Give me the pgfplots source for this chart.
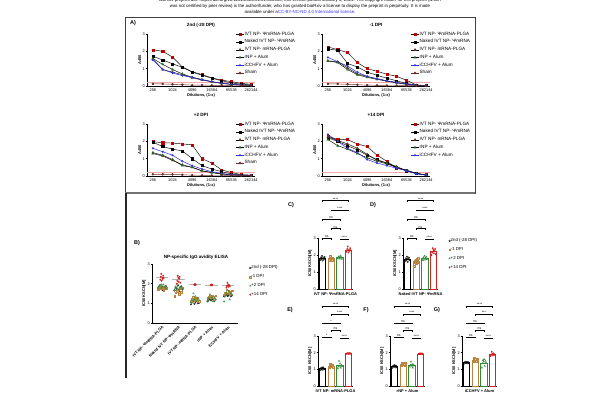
\documentclass[border=0pt]{standalone}
\usepackage{fontspec}
\setmainfont{Liberation Sans}
\usepackage{pgfplots}
\usepackage{pgfplotstable}
\pgfplotsset{compat=1.18}
\pgfkeys{/pgf/number format/assume math mode=true}
\newcommand\fs[1]{\fontsize{#1}{#1}\selectfont}
\definecolor{cR}{HTML}{C00000}
\definecolor{cBr}{HTML}{5C3A1E}
\definecolor{cG}{HTML}{1F6B1F}
\definecolor{cBl}{HTML}{2B2BD9}
\definecolor{cSh}{HTML}{6B2A2A}
\definecolor{cTan}{HTML}{B8843F}
\definecolor{cGr}{HTML}{2E8B3A}
\definecolor{cRd}{HTML}{D42020}
\definecolor{cPk}{HTML}{F4A8A8}
\definecolor{cLink}{HTML}{3333FF}

\pgfplotsset{
 gp/.style={scale only axis, axis x line*=bottom, axis y line*=left, tick align=outside,
   major tick length=1.4bp, tick style={black, line width=0.4bp},
   axis line style={black, line width=0.5bp},
   ticklabel style={font=\fs{3.9}, inner sep=0.7bp},
   clip=false,
   label style={font=\bfseries\fs{4}, inner sep=0.6bp}},
 dil/.style={gp, width=108bp, height=52bp, xmin=169, xmax=345000,
   ymin=0, ymax=3, ytick={0,1,2,3},
   xtick={256,1024,4096,16384,65536,262144},
   xticklabels={256,1024,4096,16384,65536,262144},
   xlabel={Dilutions, (1:x)}, ylabel={A450},
   xlabel style={yshift=-1bp},
   legend style={at={(rel axis cs:0.82,1.05)}, anchor=north west, draw=none, fill=none,
     font=\fs{4.7}, row sep=2.3bp, inner sep=0pt, nodes={inner sep=0.3bp}, cells={anchor=west}},
   legend image code/.code={\draw[mark repeat=2,mark phase=2,##1] plot coordinates {(0bp,0bp) (4bp,0bp) (8bp,0bp)};}},
 mleg/.style={legend image code/.code={\draw[##1] plot coordinates {(2bp,0bp)};}},
 legB/.style={mleg, legend style={anchor=north west, draw=none, fill=none, font=\fs{4.4},
     row sep=3.7bp, inner sep=0pt, nodes={inner sep=0.3bp}, cells={anchor=west}}},
 bars/.style={gp, width=35bp, xmin=0.5, xmax=4.5, ymin=0, ymax=3, ytick={0,1,2,3},
   xtick={2.5}, xticklabels={}, ylabel={IC50 KSCN[M]}},
 sR/.style={black, line width=0.45bp, mark=square*, mark size=1.05bp, mark options={draw=cR, fill=cR, solid}},
 sK/.style={black, line width=0.45bp, mark=square*, mark size=1.05bp, mark options={draw=black, fill=black, solid}},
 sB/.style={black, line width=0.45bp, mark=triangle*, mark size=1.2bp, mark options={draw=cBr, fill=cBr, solid}},
 sG/.style={black, line width=0.45bp, mark=triangle*, mark size=1.2bp, mark options={draw=cG, fill=cG, solid}},
 sU/.style={cBl, line width=0.5bp, mark=*, mark size=0.8bp, mark options={draw=cBl, fill=cBl!45, solid}},
 sS/.style={cSh, line width=0.45bp, mark=*, mark size=1.0bp, mark options={draw=cSh, fill=cSh, solid}},
 p0/.style={only marks, mark=o, mark size=0.85bp, black, mark options={line width=0.35bp}},
 p1/.style={only marks, mark=square*, mark size=0.8bp, mark options={draw=cTan, fill=cTan!40, line width=0.35bp}},
 p2/.style={only marks, mark=triangle, mark size=0.95bp, cGr, mark options={line width=0.35bp}},
 p3/.style={only marks, mark=diamond*, mark size=0.8bp, cRd},
}

\pgfplotstableread{
d r k b g u s
256 2.09 1.72 1.55 1.58 1.50 0.12
512 2.00 1.50 0.95 1.25 0.95 0.12
1024 1.67 1.28 0.80 0.95 0.75 0.10
2048 1.10 1.08 0.65 0.70 0.60 0.08
4096 0.82 0.80 0.48 0.50 0.50 0.05
8192 0.66 0.62 0.35 0.38 0.35 0.05
16384 0.47 0.45 0.25 0.25 0.25 0.04
32768 0.34 0.30 0.15 0.15 0.16 0.04
65536 0.25 0.18 0.10 0.09 0.10 0.03
131072 0.15 0.10 0.06 0.05 0.06 0.03
262144 0.10 0.06 0.04 0.04 0.04 0.03
}\tA
\pgfplotstableread{
d r k b g u s
256 2.25 2.15 1.45 1.45 1.65 0.12
512 2.10 2.05 1.40 1.35 1.40 0.12
1024 1.93 1.30 1.05 0.95 1.15 0.10
2048 1.35 1.10 0.70 0.65 0.80 0.07
4096 1.00 0.80 0.55 0.50 0.55 0.05
8192 0.85 0.62 0.42 0.38 0.42 0.04
16384 0.68 0.45 0.30 0.28 0.30 0.03
32768 0.56 0.30 0.20 0.18 0.20 0.03
65536 0.33 0.15 0.10 0.10 0.12 0.02
131072 0.06 0.05 0.04 0.04 0.05 0.02
262144 0.03 0.03 0.03 0.03 0.03 0.02
}\tB
\pgfplotstableread{
d r k b g u s
256 1.98 1.95 1.30 1.35 1.60 0.10
512 1.92 1.70 1.15 1.20 1.40 0.10
1024 1.90 1.55 0.90 0.95 1.20 0.09
2048 1.85 1.45 0.65 0.60 0.85 0.07
4096 1.80 1.00 0.50 0.50 0.60 0.05
8192 1.00 0.60 0.30 0.30 0.40 0.04
16384 0.75 0.40 0.20 0.20 0.25 0.03
32768 0.35 0.25 0.12 0.12 0.15 0.03
65536 0.20 0.12 0.07 0.07 0.08 0.02
131072 0.08 0.06 0.04 0.04 0.05 0.02
262144 0.05 0.04 0.03 0.03 0.03 0.02
}\tC
\pgfplotstableread{
d r k b g u
256 2.30 2.20 2.25 2.10 2.40
512 2.10 2.00 2.05 1.75 2.00
1024 2.10 1.75 1.85 1.55 1.60
2048 1.85 1.50 1.60 1.30 1.35
4096 1.70 1.20 1.25 1.05 0.95
8192 1.20 0.95 0.90 0.85 0.75
16384 0.85 0.75 0.75 0.70 0.60
32768 0.45 0.50 0.55 0.50 0.45
65536 0.35 0.30 0.30 0.30 0.30
131072 0.15 0.15 0.15 0.15 0.12
262144 0.08 0.05 0.05 0.05 0.05
}\tD

\pgfplotstableread{
j t0 t1 t2 t3
-0.30 1.72 1.70 1.80 2.20
-0.21 1.85 1.80 1.88 2.35
-0.12 1.78 1.92 1.92 2.50
-0.04 1.95 1.75 1.78 2.15
0.04 1.68 1.85 1.85 2.30
0.12 1.82 1.68 1.95 2.25
0.21 1.76 1.82 1.82 2.40
0.30 1.88 1.78 1.76 2.28
}\gA
\pgfplotstableread{
j t0 t1 t2 t3
-0.30 1.65 1.35 1.70 2.00
-0.21 1.80 1.55 1.85 2.15
-0.12 1.72 1.62 1.78 2.40
-0.04 1.90 1.70 1.95 2.30
0.04 1.60 1.48 1.72 2.10
0.12 1.78 1.75 1.82 2.25
0.21 1.85 1.58 1.88 2.35
0.30 1.70 1.80 1.75 2.05
}\gB
\pgfplotstableread{
j t0 t1 t2 t3
-0.30 0.95 1.10 1.05 1.94
-0.21 1.05 1.22 1.15 1.95
-0.12 1.10 1.30 1.50 1.96
-0.04 0.98 1.15 1.20 1.95
0.04 1.08 1.25 1.35 1.94
0.12 1.12 1.18 1.10 1.96
0.21 1.00 1.28 1.25 1.95
0.30 1.03 1.12 1.18 1.95
}\gC
\pgfplotstableread{
j t0 t1 t2 t3
-0.30 1.10 1.25 1.15 1.92
-0.21 1.18 1.32 1.25 1.94
-0.12 1.22 1.38 1.45 1.93
-0.04 1.15 1.28 1.20 1.95
0.04 1.25 1.35 1.30 1.92
0.12 1.20 1.30 1.10 1.94
0.21 1.12 1.22 1.28 1.93
0.30 1.19 1.40 1.22 1.94
}\gD
\pgfplotstableread{
j t0 t1 t2 t3
-0.30 1.35 1.45 1.10 1.80
-0.21 1.42 1.55 1.35 1.88
-0.12 1.45 1.70 1.55 2.05
-0.04 1.38 1.50 1.45 1.92
0.04 1.40 1.62 1.60 1.85
0.12 1.44 1.48 1.20 1.95
0.21 1.36 1.58 1.50 1.90
0.30 1.41 1.65 1.40 1.87
}\gE

\newcommand\thr{\addplot[cPk, line width=1.1bp, forget plot] coordinates {(169,0.2) (345000,0.2)};}
\newcommand\dilfive[1]{%
 \addplot[sR] table[x=d,y=r]{#1}; \addlegendentry{IVT NP- ΨmRNA-PLGA}
 \addplot[sK] table[x=d,y=k]{#1}; \addlegendentry{Naked IVT NP- ΨmRNA}
 \addplot[sB] table[x=d,y=b]{#1}; \addlegendentry{IVT NP- mRNA-PLGA}
 \addplot[sG] table[x=d,y=g]{#1}; \addlegendentry{rNP + Alum}
 \addplot[sU] table[x=d,y=u]{#1}; \addlegendentry{iCCHFV + Alum}}
\newcommand\brk[4]{%
 \draw[line width=0.35bp] ([yshift=-1.5bp]axis cs:#1,#3) -- (axis cs:#1,#3) -- (axis cs:#2,#3) -- ([yshift=-1.5bp]axis cs:#2,#3);
 \node[anchor=south, inner sep=0.2bp, font=\fs{3.4}] at (axis cs:{0.5*(#1+#2)},#3) {#4};}
\newcommand\barpanel[7]{%
\begin{axis}[bars, anchor=south west, #1]
 \addplot[ybar, bar width=6.2bp, bar shift=0pt, draw=black, fill=white, line width=0.65bp, forget plot] coordinates {(1,#3)};
 \addplot[ybar, bar width=6.2bp, bar shift=0pt, draw=cTan, fill=white, line width=0.65bp, forget plot] coordinates {(2,#4)};
 \addplot[ybar, bar width=6.2bp, bar shift=0pt, draw=cGr, fill=white, line width=0.65bp, forget plot] coordinates {(3,#5)};
 \addplot[ybar, bar width=6.2bp, bar shift=0pt, draw=cRd, fill=white, line width=0.65bp, forget plot] coordinates {(4,#6)};
 \addplot[p0] table[x expr={1+0.8*\thisrow{j}}, y=t0]{#2};
 \addplot[p1] table[x expr={2+0.8*\thisrow{j}}, y=t1]{#2};
 \addplot[p2] table[x expr={3+0.8*\thisrow{j}}, y=t2]{#2};
 \addplot[p3] table[x expr={4+0.8*\thisrow{j}}, y=t3]{#2};
 #7
\end{axis}}

\begin{document}
\begin{tikzpicture}[x=1bp,y=-1bp]
\useasboundingbox[fill=white] (0,0) rectangle (600,400);
% header
\node[font=\fs{4.4}] at (300,0.5) {bioRxiv preprint doi: https://doi.org/10.1101/2024.01.01.000000; this version posted January 1, 2024. The copyright holder for this preprint (which};
\node[font=\fs{4.4}] at (300,6.3) {was not certified by peer review) is the author/funder, who has granted bioRxiv a license to display the preprint in perpetuity. It is made};
\node[font=\fs{4.4}] at (300,12) {available under a\textcolor{cLink}{CC-BY-NC-ND 4.0 International license}.};
% frame A
\draw[line width=0.7bp, black!75] (125,17) rectangle (475,193);
\draw[line width=1.1bp, black!55] (125,193) -- (475,193);
\draw[line width=1.2bp, black!85] (126,193) -- (126,378);
% panel letters
\node[font=\bfseries\fs{5.5}] at (133,23) {A)};
\node[font=\bfseries\fs{5.5}] at (137,243) {B)};
\node[font=\bfseries\fs{5.5}] at (291,205) {C)};
\node[font=\bfseries\fs{5.5}] at (373,205) {D)};
\node[font=\bfseries\fs{5.5}] at (290,310) {E)};
\node[font=\bfseries\fs{5.5}] at (366,310) {F)};
\node[font=\bfseries\fs{5.5}] at (437,310) {G)};
% titles A
\node[font=\bfseries\fs{4.6}] at (201,25) {2nd (-28 DPI)};
\node[font=\bfseries\fs{4.6}] at (376,25) {-1 DPI};
\node[font=\bfseries\fs{4.6}] at (201,115) {+2 DPI};
\node[font=\bfseries\fs{4.6}] at (376,115) {+14 DPI};
\node[font=\bfseries\fs{4.6}] at (196,257) {NP-specific IgG avidity ELISA};

% ---- A panels
\begin{axis}[dil, xmode=log, log basis x=2, anchor=south west, at={(147bp,-86bp)}]
 \thr \dilfive{\tA}
 \addplot[sS] table[x=d,y=s]{\tA}; \addlegendentry{Sham}
\end{axis}
\begin{axis}[dil, xmode=log, log basis x=2, anchor=south west, at={(322bp,-86bp)}]
 \thr \dilfive{\tB}
 \addplot[sS] table[x=d,y=s]{\tB}; \addlegendentry{Sham}
\end{axis}
\begin{axis}[dil, xmode=log, log basis x=2, anchor=south west, at={(147bp,-176bp)}]
 \thr \dilfive{\tC}
 \addplot[sS] table[x=d,y=s]{\tC}; \addlegendentry{Sham}
\end{axis}
\begin{axis}[dil, xmode=log, log basis x=2, anchor=south west, at={(322bp,-176bp)}]
 \thr \dilfive{\tD}
\end{axis}

% ---- B panel
\begin{axis}[gp, anchor=south west, at={(152bp,-323bp)}, width=86bp, height=59bp, xmin=0.4, xmax=5.6, ymin=0, ymax=3,
  ytick={0,1,2,3}, xtick={1,2,3,4,5},
  xticklabels={IVT NP- ΨmRNA-PLGA, Naked IVT NP- ΨmRNA, IVT NP- mRNA-PLGA, rNP + Alum, iCCHFV + Alum},
  xticklabel style={rotate=45, anchor=north east, font=\bfseries\fs{3.9}},
  ylabel={IC50 KSCN[M]}, legB, legend style={at={(rel axis cs:1.13,0.98)}}]
 \addplot[gray!60, line width=0.6bp, forget plot] coordinates {(0.62,2.30) (1.38,2.30)};
 \addplot[gray!60, line width=0.6bp, forget plot] coordinates {(1.62,2.20) (2.38,2.20)};
 \addplot[gray!60, line width=0.6bp, forget plot] coordinates {(2.62,1.95) (3.38,1.95)};
 \addplot[gray!60, line width=0.6bp, forget plot] coordinates {(3.62,1.93) (4.38,1.93)};
 \addplot[gray!60, line width=0.6bp, forget plot] coordinates {(4.62,1.90) (5.38,1.90)};
 \addplot[p0] table[x expr={1+0.8*\thisrow{j}}, y=t0]{\gA}; \addlegendentry{2nd (-28 DPI)}
 \addplot[p0, forget plot] table[x expr={2+0.8*\thisrow{j}}, y=t0]{\gB};
 \addplot[p0, forget plot] table[x expr={3+0.8*\thisrow{j}}, y=t0]{\gC};
 \addplot[p0, forget plot] table[x expr={4+0.8*\thisrow{j}}, y=t0]{\gD};
 \addplot[p0, forget plot] table[x expr={5+0.8*\thisrow{j}}, y=t0]{\gE};
 \addplot[p1] table[x expr={1+0.8*\thisrow{j}}, y=t1]{\gA}; \addlegendentry{-1 DPI}
 \addplot[p1, forget plot] table[x expr={2+0.8*\thisrow{j}}, y=t1]{\gB};
 \addplot[p1, forget plot] table[x expr={3+0.8*\thisrow{j}}, y=t1]{\gC};
 \addplot[p1, forget plot] table[x expr={4+0.8*\thisrow{j}}, y=t1]{\gD};
 \addplot[p1, forget plot] table[x expr={5+0.8*\thisrow{j}}, y=t1]{\gE};
 \addplot[p2] table[x expr={1+0.8*\thisrow{j}}, y=t2]{\gA}; \addlegendentry{+2 DPI}
 \addplot[p2, forget plot] table[x expr={2+0.8*\thisrow{j}}, y=t2]{\gB};
 \addplot[p2, forget plot] table[x expr={3+0.8*\thisrow{j}}, y=t2]{\gC};
 \addplot[p2, forget plot] table[x expr={4+0.8*\thisrow{j}}, y=t2]{\gD};
 \addplot[p2, forget plot] table[x expr={5+0.8*\thisrow{j}}, y=t2]{\gE};
 \addplot[p3] table[x expr={1+0.35*\thisrow{j}}, y=t3]{\gA}; \addlegendentry{+14 DPI}
 \addplot[p3, forget plot] table[x expr={2+0.35*\thisrow{j}}, y=t3]{\gB};
 \addplot[p3, forget plot] table[x expr={3+0.15*\thisrow{j}}, y=t3]{\gC};
 \addplot[p3, forget plot] table[x expr={4+0.15*\thisrow{j}}, y=t3]{\gD};
 \addplot[p3, forget plot] table[x expr={5+0.35*\thisrow{j}}, y=t3]{\gE};
\end{axis}

% ---- C-G
\barpanel{at={(318bp,-289bp)}, height=51bp, xlabel={IVT NP- ΨmRNA-PLGA}}{\gA}{1.81}{1.79}{1.85}{2.30}%
 {\brk{1}{2}{3.0}{ns}\brk{3}{4}{2.95}{****}\brk{2}{3}{3.55}{ns}\brk{1}{3}{4.1}{ns}\brk{2}{4}{4.65}{****}\brk{1}{4}{5.2}{****}}
\barpanel{at={(403bp,-289bp)}, height=51bp, xlabel={Naked IVT NP- ΨmRNA}, legB,
  legend style={at={(rel axis cs:1.3,1.0)}}, legend entries={2nd (-28 DPI),-1 DPI,+2 DPI,+14 DPI}}{\gB}{1.75}{1.60}{1.81}{2.20}%
 {\brk{1}{2}{3.0}{ns}\brk{3}{4}{2.95}{****}\brk{2}{3}{3.55}{ns}\brk{1}{3}{4.1}{ns}\brk{2}{4}{4.65}{****}\brk{1}{4}{5.2}{****}}
\barpanel{at={(318bp,-386bp)}, height=50bp, xlabel={IVT NP- mRNA-PLGA}}{\gC}{1.04}{1.20}{1.22}{1.95}%
 {\brk{1}{2}{2.95}{*}\brk{3}{4}{2.9}{****}\brk{2}{3}{3.35}{ns}\brk{1}{3}{3.8}{*}\brk{2}{4}{4.3}{****}\brk{1}{4}{4.8}{****}}
\barpanel{at={(390bp,-386bp)}, height=50bp, xlabel={rNP + Alum}}{\gD}{1.18}{1.31}{1.24}{1.93}%
 {\brk{1}{2}{2.95}{ns}\brk{3}{4}{2.9}{****}\brk{2}{3}{3.35}{ns}\brk{1}{3}{3.8}{ns}\brk{2}{4}{4.3}{****}\brk{1}{4}{4.8}{****}}
\barpanel{at={(462bp,-386bp)}, height=50bp, xlabel={iCCHFV + Alum}}{\gE}{1.40}{1.57}{1.39}{1.90}%
 {\brk{1}{2}{2.95}{ns}\brk{3}{4}{2.9}{****}\brk{2}{3}{3.35}{ns}\brk{1}{3}{3.8}{ns}\brk{2}{4}{4.3}{***}\brk{1}{4}{4.8}{****}}
\end{tikzpicture}
\end{document}
